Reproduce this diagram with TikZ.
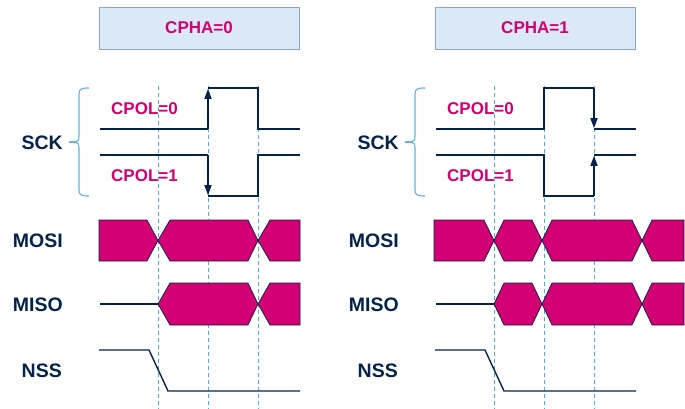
\documentclass[tikz,border=0pt]{standalone}
\usepackage{fontspec}
\setmainfont{Liberation Sans}
\usetikzlibrary{arrows.meta}
\definecolor{navy}{RGB}{3,35,75}
\definecolor{stpink}{RGB}{210,0,115}
\definecolor{boxfill}{RGB}{219,232,245}
\definecolor{boxline}{RGB}{140,166,194}
\definecolor{dashblue}{RGB}{60,180,229}
\definecolor{bracecol}{RGB}{90,180,225}
\tikzset{
  sig/.style={draw=navy,line width=1.6pt,line join=miter},
  edgearrow/.style={draw=navy,line width=1.6pt,-{Triangle[length=10pt,width=7pt]}},
  databox/.style={fill=stpink,draw=navy,line width=0.7pt,line join=miter},
  guide/.style={draw=dashblue,line width=1pt,dash pattern=on 4pt off 3pt},
  bracestyle/.style={draw=bracecol,line width=1.1pt},
  siglabel/.style={font=\bfseries\fontsize{19.5}{22}\selectfont,text=navy,inner sep=0pt,anchor=east},
  pollabel/.style={font=\bfseries\fontsize{17}{20}\selectfont,text=stpink,inner sep=0pt,anchor=west},
  phabox/.style={draw=boxline,fill=boxfill,line width=0.8pt,minimum width=200pt,minimum height=42pt,inner sep=0pt,font=\bfseries\fontsize{17}{20}\selectfont,text=stpink},
}
\begin{document}
\begin{tikzpicture}[x=1pt,y=-1pt]
\useasboundingbox (0,0) rectangle (685,409);
% ---------- common parts for both panels ----------
\foreach \dx/\nm in {0/L,336/R}{
\begin{scope}[xshift=\dx pt]
  % guides
  \foreach \gx in {158,208,258}{
    \draw[guide] (\gx,86) -- (\gx,409);
  }
  % labels
  \node[siglabel] (sck\nm)  at (63,143)   {SCK};
  \node[siglabel] (mosi\nm) at (63,240.5) {MOSI};
  \node[siglabel] (miso\nm) at (63,304.5) {MISO};
  \node[siglabel] (nss\nm)  at (62,370.5) {NSS};
  \node[pollabel] (cpolz\nm) at (111,109) {CPOL=0};
  \node[pollabel] (cpolo\nm) at (111,176) {CPOL=1};
  % brace
  \coordinate (bt\nm) at (89,88);
  \coordinate (bb\nm) at (89,196);
  \coordinate (bm\nm) at (75,142);
  \draw[bracestyle] (bt\nm) .. controls (81,88) and (79,89) .. (79,94)
      -- (79,136) .. controls (79,140) and (78,142) .. (bm\nm)
      .. controls (78,142) and (79,144) .. (79,148)
      -- (79,190) .. controls (79,195) and (81,196) .. (bb\nm);
  \coordinate (bk\nm) at (69,142);
  \draw[bracestyle] (bk\nm) -- (bm\nm);
  % NSS
  \draw[sig,line width=1.4pt] (99,350) -- (149,350) -- (168,391) -- (300,391);
\end{scope}
}
% ---------- left panel: CPHA=0 ----------
\node[phabox] (cphaL) at (199,28) {CPHA=0};
% SCK CPOL=0
\draw[sig] (100,129) -- (208,129);
\draw[edgearrow] (208,129) -- (208,88.8);
\draw[sig] (208,88) -- (258,88) -- (258,129) -- (300,129);
% SCK CPOL=1
\draw[sig] (100,155) -- (208,155);
\draw[edgearrow] (208,155) -- (208,195.2);
\draw[sig] (208,196) -- (258,196) -- (258,155) -- (300,155);
% MOSI
\draw[databox] (99,220) -- (147,220) -- (158,240.5) -- (147,261) -- (99,261) -- cycle;
\draw[databox] (158,240.5) -- (170,220) -- (248,220) -- (258,240.5) -- (248,261) -- (170,261) -- cycle;
\draw[databox] (258,240.5) -- (270,220) -- (300,220) -- (300,261) -- (270,261) -- cycle;
% MISO
\draw[sig,line width=1.4pt] (100,304) -- (158,304);
\draw[databox] (158,304) -- (170,283) -- (248,283) -- (258,304) -- (248,325) -- (170,325) -- cycle;
\draw[databox] (258,304) -- (270,283) -- (300,283) -- (300,325) -- (270,325) -- cycle;
% ---------- right panel: CPHA=1 ----------
\begin{scope}[xshift=336pt]
\node[phabox] (cphaR) at (199,28) {CPHA=1};
% SCK CPOL=0
\draw[sig] (100,129) -- (208,129) -- (208,88) -- (258,88);
\draw[edgearrow] (258,88) -- (258,128.2);
\draw[sig] (258,129) -- (300,129);
% SCK CPOL=1
\draw[sig] (100,155) -- (208,155) -- (208,196) -- (258,196);
\draw[edgearrow] (258,196) -- (258,155.8);
\draw[sig] (258,155) -- (300,155);
% MOSI
\draw[databox] (98,220) -- (148,220) -- (158,240.5) -- (148,261) -- (98,261) -- cycle;
\draw[databox] (158,240.5) -- (168,220) -- (196,220) -- (206,240.5) -- (196,261) -- (168,261) -- cycle;
\draw[databox] (206,240.5) -- (216,220) -- (296,220) -- (306,240.5) -- (296,261) -- (216,261) -- cycle;
\draw[databox] (306,240.5) -- (316,220) -- (348,220) -- (348,261) -- (316,261) -- cycle;
% MISO
\draw[sig,line width=1.4pt] (100,304) -- (158,304);
\draw[databox] (158,304) -- (168,283) -- (196,283) -- (206,304) -- (196,325) -- (168,325) -- cycle;
\draw[databox] (206,304) -- (216,283) -- (296,283) -- (306,304) -- (296,325) -- (216,325) -- cycle;
\draw[databox] (306,304) -- (316,283) -- (348,283) -- (348,325) -- (316,325) -- cycle;
\end{scope}
\end{tikzpicture}
\end{document}
